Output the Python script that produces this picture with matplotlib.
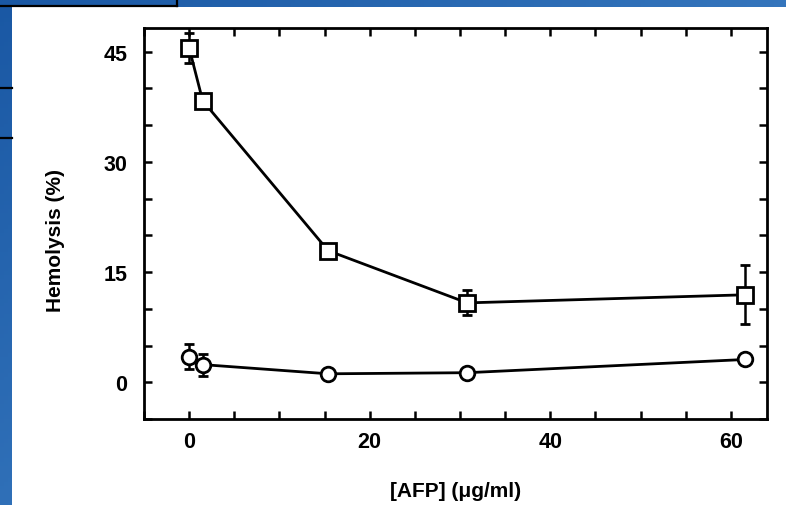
import numpy as np
import matplotlib
matplotlib.use('Agg')
import matplotlib.pyplot as plt
from matplotlib.patches import Rectangle
from matplotlib.ticker import MultipleLocator

plt.rcParams['font.family'] = ['Liberation Sans', 'DejaVu Sans']
plt.rcParams['font.weight'] = 'bold'

# AFP concentration (ug/ml)
afp = [0, 1.5, 15.4, 30.8, 61.6]

# squares series
sq_vals = [45.5, 38.3, 17.9, 10.8, 11.9]
sq_err = [2.0, 0, 0, 1.7, 4.0]

# circles series
circ_vals = [3.5, 2.4, 1.15, 1.3, 3.1]
circ_err = [1.7, 1.5, 0, 0, 0]

W, H = 786, 506
fig = plt.figure(figsize=(W / 100, H / 100), dpi=100)

# slide background: blue border strips with white panel
bg = fig.add_axes([0, 0, 1, 1], zorder=-10)
gx, gy = np.meshgrid(np.linspace(0, 1, 200), np.linspace(0, 1, 130))
grad = 0.55 * gx + 0.45 * gy
bg.imshow(grad, extent=[0, W, H, 0], aspect='auto',
          cmap=matplotlib.colors.LinearSegmentedColormap.from_list('b', ['#1a58a4', '#4a8dd0']))
bg.add_patch(Rectangle((12, 8), W - 12, H - 8, facecolor='white', edgecolor='none'))
bg.plot([0, 177], [6.5, 6.5], color='black', lw=1.6)
bg.plot([177, 177], [0, 6.5], color='black', lw=1.6)
bg.plot([0, 12], [88.5, 88.5], color='black', lw=1.6)
bg.plot([0, 12], [138.5, 138.5], color='black', lw=1.6)
bg.set_xlim(0, W)
bg.set_ylim(H, 0)
bg.axis('off')

ax = fig.add_axes([144 / W, (H - 420) / H, (767 - 144) / W, (420 - 29) / H])
ax.set_facecolor('none')

lw = 2.0
ax.plot(afp, sq_vals, color='black', lw=lw, marker='s', ms=11.5, mfc='white',
        mec='black', mew=2.0, zorder=3)
ax.plot(afp, circ_vals, color='black', lw=lw, marker='o', ms=10.5, mfc='white',
        mec='black', mew=2.0, zorder=3)

for vals, errs in [(sq_vals, sq_err), (circ_vals, circ_err)]:
    idx = [i for i, e in enumerate(errs) if e > 0]
    ax.errorbar([afp[i] for i in idx], [vals[i] for i in idx],
                yerr=[errs[i] for i in idx], fmt='none', ecolor='black',
                elinewidth=1.8, capsize=3.5, capthick=2.0, zorder=2)

ax.set_xlim(-5, 64)
ax.set_ylim(-5, 48.2)
ax.xaxis.set_major_locator(MultipleLocator(20))
ax.xaxis.set_minor_locator(MultipleLocator(5))
ax.yaxis.set_major_locator(MultipleLocator(15))
ax.yaxis.set_minor_locator(MultipleLocator(5))
ax.tick_params(which='both', direction='in', top=True, right=True,
               length=6, width=1.8)
ax.tick_params(axis='x', pad=9, labelsize=15.5)
ax.tick_params(axis='y', pad=12, labelsize=15.5)
for s in ax.spines.values():
    s.set_linewidth(2.0)

ax.set_xlabel('[AFP] (\u03bcg/ml)', fontsize=15, fontweight='bold')
ax.set_ylabel('Hemolysis (%)', fontsize=15, fontweight='bold')
ax.xaxis.set_label_coords(0.5, -0.158)
ax.yaxis.set_label_coords(-0.127, 0.46)

fig.savefig('out.png', dpi=100)
